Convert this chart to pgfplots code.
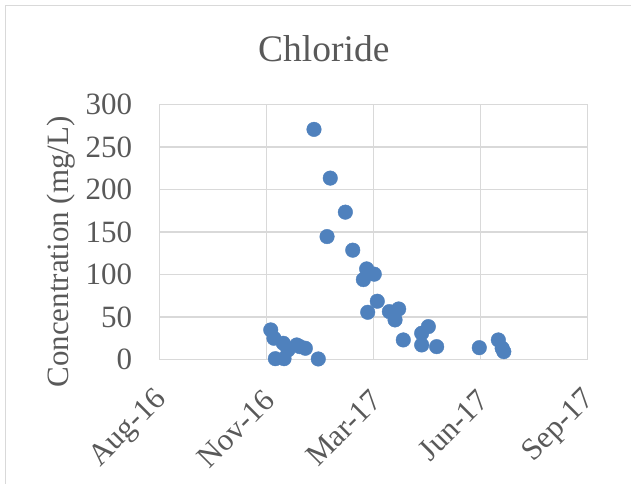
\documentclass[border=0pt]{standalone}
\usepackage{fontspec}
\setmainfont{Liberation Serif}
\usepackage{pgfplots}
\pgfplotsset{compat=1.18}
\definecolor{excelblue}{HTML}{4F81BD}
\definecolor{gridgray}{HTML}{D9D9D9}
\definecolor{txtgray}{HTML}{595959}
\begin{document}
\begin{tikzpicture}[x=1bp,y=1bp]
\path[use as bounding box] (0,0) rectangle (631,484);
\draw[gridgray, line width=1.5bp] (5.5,0) -- (5.5,478.5) -- (631,478.5);
\begin{axis}[
  at={(159.3bp,124.7bp)}, anchor=south west,
  scale only axis, width=428.2bp, height=254.6bp,
  xmin=0, xmax=400, ymin=0, ymax=300,
  xtick={0,100,200,300,400},
  xticklabels={Aug-16,Nov-16,Mar-17,Jun-17,Sep-17},
  ytick={0,50,...,300},
  major tick length=0pt,
  grid=major,
  major grid style={gridgray, line width=1.4bp},
  axis line style={gridgray, line width=1.4bp},
  axis x line*=bottom, axis y line*=left,
  /pgf/number format/assume math mode=true,
  tick label style={font=\fontsize{31bp}{36bp}\selectfont, text=txtgray, inner sep=0pt},
  yticklabel style={anchor=east, xshift=-27bp},
  xticklabel style={xshift=3bp, yshift=-36bp, rotate=45, anchor=east},
  clip=false,
]
\addplot[only marks, mark=*, mark size=7.3bp, mark options={fill=excelblue, draw=excelblue}] coordinates {
(104.1,34.6) (107.1,24.8) (108.4,0.7) (115.8,18.9) (116.5,0.7)
(120.2,11.0) (128.4,16.9) (131.4,14.9) (136.4,13.0) (144.5,270.9)
(148.5,0.4) (156.7,144.6) (159.7,213.5) (173.8,173.4) (180.7,128.6)
(190.6,93.9) (193.7,106.5) (194.7,55.4) (200.8,100.3) (203.6,68.4)
(214.9,56.2) (220.2,46.4) (223.6,59.3) (227.9,22.8) (245.1,30.7)
(245.1,16.9) (251.3,38.5) (259.1,14.9) (298.9,13.7) (316.7,22.8)
(320.3,13.0) (321.8,9.0)
};
\end{axis}
\node[anchor=base, text=txtgray, font=\fontsize{37.5bp}{45bp}\selectfont, inner sep=0pt] at (323.8,422.3) {Chloride};
\node[anchor=base, rotate=90, text=txtgray, font=\fontsize{31bp}{36bp}\selectfont, inner sep=0pt] at (68.8,232) {Concentration (mg/L)};
\end{tikzpicture}
\end{document}
